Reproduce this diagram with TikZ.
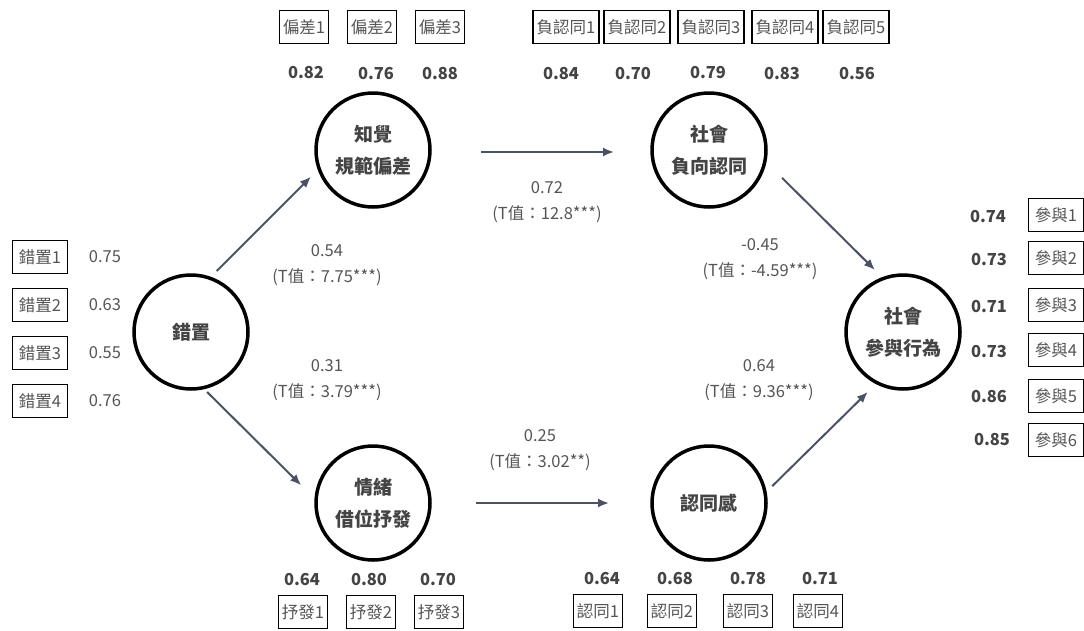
\documentclass[tikz,border=0pt]{standalone}
\usepackage{fontspec}
\setmainfont{Noto Sans CJK TC}
\usepackage{xcolor}
\usetikzlibrary{arrows.meta}
\definecolor{txtgray}{HTML}{555555}
\definecolor{numgray}{HTML}{444444}
\definecolor{arrgray}{HTML}{4B5263}
\tikzset{%
    >={Latex[width=9pt,length=11pt]},
    % Specifications for style of nodes:
    latent/.style = {
        circle, draw=black, line width=3.5pt,
        minimum size=114pt, inner sep=0pt, outer sep=0pt,
        align=center, text=numgray,
        font=\fontsize{19pt}{32pt}\selectfont\bfseries
    },
    item/.style = {
        rectangle, draw=black, line width=1.4pt,
        minimum height=33pt, inner xsep=3.5pt,
        text=txtgray, font=\fontsize{16.5pt}{18pt}\selectfont
    },
    sideitem/.style = {item, inner xsep=6.5pt},
    loadb/.style = {text=numgray, font=\fontsize{16.5pt}{18pt}\selectfont\bfseries},
    loadr/.style = {text=txtgray, font=\fontsize{16.5pt}{18pt}\selectfont},
    coef/.style = {align=center, text=txtgray, font=\fontsize{16.5pt}{26pt}\selectfont},
    effect/.style = {->, draw=arrgray, line width=2pt}
}

\begin{document}
\begin{tikzpicture}[x=1pt, y=-1pt]
    \path[fill=white, use as bounding box] (0,0) rectangle (1084,630);
    % latent variables
    \node[latent] (cuo) at (191,332) {錯置};
    \node[latent] (zhi) at (373,150) {知覺\\規範偏差};
    \node[latent] (she) at (709,150) {社會\\負向認同};
    \node[latent] (qing) at (373,503) {情緒\\借位抒發};
    \node[latent] (ren) at (709,503) {認同感};
    \node[latent] (can) at (903,332) {社會\\參與行為};
    % indicators of 錯置
    \node[sideitem] (cuo1) at (40,257) {錯置1};
    \node[sideitem] (cuo2) at (40,305) {錯置2};
    \node[sideitem] (cuo3) at (40,353) {錯置3};
    \node[sideitem] (cuo4) at (40,401) {錯置4};
    \node[loadr] at (105,257) {0.75};
    \node[loadr] at (105,305) {0.63};
    \node[loadr] at (105,353) {0.55};
    \node[loadr] at (105,401) {0.76};
    % indicators of 知覺規範偏差
    \node[item] (zhi1) at (304,27) {偏差1};
    \node[item] (zhi2) at (372,27) {偏差2};
    \node[item] (zhi3) at (440,27) {偏差3};
    \node[loadb] at (306,73) {0.82};
    \node[loadb] at (376,74) {0.76};
    \node[loadb] at (440,74) {0.88};
    % indicators of 社會負向認同
    \node[item] (she1) at (566,27) {負認同1};
    \node[item] (she2) at (637,27) {負認同2};
    \node[item] (she3) at (711,27) {負認同3};
    \node[item] (she4) at (785,27) {負認同4};
    \node[item] (she5) at (856,27) {負認同5};
    \node[loadb] at (561,74) {0.84};
    \node[loadb] at (633,74) {0.70};
    \node[loadb] at (708,73) {0.79};
    \node[loadb] at (782,74) {0.83};
    \node[loadb] at (857,74) {0.56};
    % indicators of 情緒借位抒發
    \node[item] (qing1) at (303,612) {抒發1};
    \node[item] (qing2) at (371,612) {抒發2};
    \node[item] (qing3) at (439,612) {抒發3};
    \node[loadb] at (302,579) {0.64};
    \node[loadb] at (369,579) {0.80};
    \node[loadb] at (438,579) {0.70};
    % indicators of 認同感
    \node[item] (ren1) at (598,611) {認同1};
    \node[item] (ren2) at (672,611) {認同2};
    \node[item] (ren3) at (748,611) {認同3};
    \node[item] (ren4) at (818,611) {認同4};
    \node[loadb] at (602,578) {0.64};
    \node[loadb] at (675,578) {0.68};
    \node[loadb] at (748,578) {0.78};
    \node[loadb] at (820,578) {0.71};
    % indicators of 社會參與行為
    \node[sideitem] (can1) at (1056,215) {參與1};
    \node[sideitem] (can2) at (1056,258) {參與2};
    \node[sideitem] (can3) at (1056,305) {參與3};
    \node[sideitem] (can4) at (1056,350) {參與4};
    \node[sideitem] (can5) at (1056,396) {參與5};
    \node[sideitem] (can6) at (1056,440) {參與6};
    \node[loadb] at (988,217) {0.74};
    \node[loadb] at (989,260) {0.73};
    \node[loadb] at (989,307) {0.71};
    \node[loadb] at (989,352) {0.73};
    \node[loadb] at (989,397) {0.86};
    \node[loadb] at (992,440) {0.85};
    % structural paths
    \draw[effect, shorten <=10pt, shorten >=11.5pt] (cuo.71) -- (zhi.199);
    \draw[effect, shorten <=6pt, shorten >=21pt] (cuo.282) -- (qing.177);
    \draw[effect, shorten <=51pt, shorten >=38pt] ([yshift=-2pt]zhi.east) -- ([yshift=-2pt]she.west);
    \draw[effect, shorten <=46pt, shorten >=43pt] (qing.east) -- (ren.west);
    \draw[effect, shorten <=24pt, shorten >=12pt] (she.349) -- (can.110);
    \draw[effect, shorten <=10pt, shorten >=13pt] (ren.10) -- (can.243);
    % path coefficients
    \node[coef] at (547,202) {0.72\\(T值：12.8***)};
    \node[coef] at (327,265) {0.54\\(T值：7.75***)};
    \node[coef] at (327,380) {0.31\\(T值：3.79***)};
    \node[coef] at (760,259) {-0.45\\(T值：-4.59***)};
    \node[coef] at (759,380) {0.64\\(T值：9.36***)};
    \node[coef] at (540,450) {0.25\\(T值：3.02**)};
\end{tikzpicture}
\end{document}
